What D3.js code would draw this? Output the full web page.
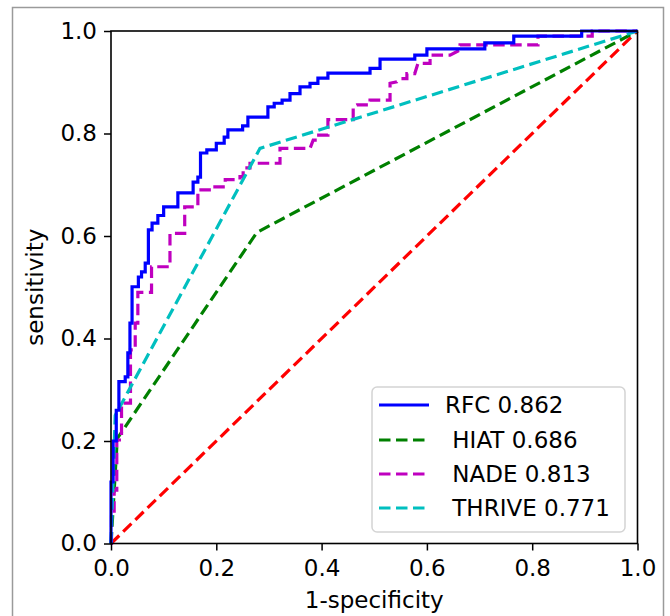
<!DOCTYPE html>
<html><head><meta charset="utf-8">
<script src="https://cdn.jsdelivr.net/npm/d3@7/dist/d3.min.js"></script>
<style>
body{margin:0;background:#fff;}
svg{display:block;font-family:"DejaVu Sans",sans-serif;}
</style>
</head><body>
<svg id="c" width="670" height="616"></svg>
<script>
// ---- data ----
const xTicks = [0.0, 0.2, 0.4, 0.6, 0.8, 1.0];
const yTicks = [0.0, 0.2, 0.4, 0.6, 0.8, 1.0];
const xLabel = "1-specificity";
const yLabel = "sensitivity";
const legendLabels = ["RFC 0.862", " HIAT 0.686", " NADE 0.813", " THRIVE 0.771"];

const rfcFpr = [0,0,0.004,0.004,0.01,0.01,0.015,0.015,0.027,0.027,0.032,0.032,0.036,0.036,0.04,0.04,0.052,0.052,0.058,0.058,0.065,0.065,0.071,0.071,0.078,0.078,0.089,0.089,0.1,0.1,0.127,0.127,0.156,0.156,0.165,0.165,0.17,0.17,0.182,0.182,0.2,0.2,0.215,0.215,0.222,0.222,0.25,0.25,0.26,0.26,0.298,0.298,0.31,0.31,0.325,0.325,0.34,0.34,0.359,0.359,0.378,0.378,0.393,0.393,0.412,0.412,0.492,0.492,0.511,0.511,0.577,0.577,0.6,0.6,0.71,0.71,0.765,0.765,0.894,0.894,1];
const rfcTpr = [0,0.12,0.12,0.2,0.2,0.26,0.26,0.316,0.316,0.325,0.325,0.372,0.372,0.43,0.43,0.501,0.501,0.52,0.52,0.53,0.53,0.547,0.547,0.612,0.612,0.625,0.625,0.64,0.64,0.657,0.657,0.684,0.684,0.705,0.705,0.715,0.715,0.762,0.762,0.768,0.768,0.781,0.781,0.793,0.793,0.807,0.807,0.815,0.815,0.832,0.832,0.852,0.852,0.859,0.859,0.865,0.865,0.878,0.878,0.891,0.891,0.898,0.898,0.908,0.908,0.918,0.918,0.927,0.927,0.945,0.945,0.953,0.953,0.965,0.965,0.977,0.977,0.99,0.99,1,1];

const hiatFpr = [0, 0.012, 0.277, 1];
const hiatTpr = [0, 0.205, 0.607, 1];

const nadeFpr = [0,0.001,0.001,0.006,0.006,0.011,0.011,0.02,0.02,0.037,0.037,0.046,0.046,0.051,0.051,0.077,0.077,0.112,0.112,0.14,0.14,0.165,0.165,0.192,0.192,0.217,0.217,0.245,0.245,0.251,0.251,0.264,0.264,0.321,0.321,0.378,0.384,0.391,0.391,0.412,0.412,0.46,0.46,0.467,0.492,0.492,0.53,0.53,0.543,0.549,0.562,0.562,0.577,0.583,0.606,0.606,0.644,0.663,0.663,0.811,0.811,0.914,0.914,1];
const nadeTpr = [0,0,0.052,0.052,0.104,0.104,0.202,0.202,0.274,0.274,0.378,0.378,0.43,0.43,0.49,0.49,0.54,0.54,0.605,0.605,0.657,0.657,0.69,0.69,0.696,0.696,0.71,0.71,0.716,0.716,0.733,0.733,0.742,0.742,0.771,0.771,0.787,0.787,0.797,0.797,0.827,0.827,0.852,0.856,0.856,0.865,0.865,0.898,0.901,0.907,0.907,0.917,0.917,0.937,0.937,0.953,0.953,0.963,0.973,0.973,0.99,0.99,1,1];

const thriveFpr = [0, 0.008, 0.283, 1];
const thriveTpr = [0, 0.25, 0.771, 1];

const chanceFpr = [0, 1];
const chanceTpr = [0, 1];

// ---- layout ----
const svg = d3.select("#c");
const L = 111, R = 637.5, T = 31, B = 543.5;
const x = d3.scaleLinear().domain([0, 1]).range([L, R]);
const y = d3.scaleLinear().domain([0, 1]).range([B, T]);
const FS = 23;

// outer frame
svg.append("path")
  .attr("d", `M12.5,620 L12.5,7.5 L663.5,7.5 L663.5,620`)
  .attr("fill", "none").attr("stroke", "#9a9a9a").attr("stroke-width", 1.5);

const zip = (a, b) => a.map((v, i) => [v, b[i]]);
const line = d3.line().x(d => x(d[0])).y(d => y(d[1]));

const clip = svg.append("clipPath").attr("id", "pc").append("rect")
  .attr("x", L - 2).attr("y", T - 2).attr("width", R - L + 4).attr("height", B - T + 4);

const series = [
  {pts: zip(chanceFpr, chanceTpr), color: "#ff0000", dash: "11.5,5.5"},
  {pts: zip(hiatFpr, hiatTpr), color: "#008000", dash: "11.5,5.5"},
  {pts: zip(nadeFpr, nadeTpr), color: "#bf00bf", dash: "11.5,5.5"},
  {pts: zip(thriveFpr, thriveTpr), color: "#00bfbf", dash: "11.5,5.5"},
  {pts: zip(rfcFpr, rfcTpr), color: "#0000ff", dash: null}
];

const g = svg.append("g").attr("clip-path", "url(#pc)");
series.forEach(s => {
  g.append("path").attr("d", line(s.pts))
    .attr("fill", "none").attr("stroke", s.color).attr("stroke-width", 3.2)
    .attr("stroke-dasharray", s.dash).attr("stroke-linejoin", "miter");
});

// axes
const fmt = d3.format(".1f");
const xAxis = svg.append("g").attr("transform", `translate(0,${B})`)
  .call(d3.axisBottom(x).tickValues(xTicks).tickFormat(fmt).tickSize(7).tickPadding(7).tickSizeOuter(0));
const yAxis = svg.append("g").attr("transform", `translate(${L},0)`)
  .call(d3.axisLeft(y).tickValues(yTicks).tickFormat(fmt).tickSize(7).tickPadding(7).tickSizeOuter(0));
[xAxis, yAxis].forEach(a => {
  a.select(".domain").remove();
  a.selectAll("line").attr("stroke", "#000").attr("stroke-width", 1.5);
  a.selectAll("text").attr("font-size", FS).attr("fill", "#000").attr("font-family", "DejaVu Sans");
});
xAxis.selectAll("text").attr("dy", "0.82em");

// spines
svg.append("rect").attr("x", L).attr("y", T).attr("width", R - L).attr("height", B - T)
  .attr("fill", "none").attr("stroke", "#000").attr("stroke-width", 1.6);

// axis labels
svg.append("text").attr("x", (L + R) / 2).attr("y", 608).attr("text-anchor", "middle")
  .attr("font-size", FS).text(xLabel);
svg.append("text").attr("transform", `translate(43,${(T + B) / 2}) rotate(-90)`)
  .attr("text-anchor", "middle").attr("font-size", FS).text(yLabel);

// legend
const lg = svg.append("g");
lg.append("rect").attr("x", 372).attr("y", 387).attr("width", 253).attr("height", 145)
  .attr("rx", 5).attr("fill", "#fff").attr("fill-opacity", 0.8)
  .attr("stroke", "#d4d4d4").attr("stroke-width", 1.5);
const legOrder = [4, 1, 2, 3];
const rowY = [405, 440, 474, 508];
legOrder.forEach((si, i) => {
  const s = series[si];
  lg.append("line").attr("x1", 379).attr("x2", 429).attr("y1", rowY[i]).attr("y2", rowY[i])
    .attr("stroke", s.color).attr("stroke-width", 3.2).attr("stroke-dasharray", s.dash);
  lg.append("text").attr("x", 445).attr("y", rowY[i] + 0.365 * FS)
    .attr("font-size", FS).style("white-space", "pre").attr("xml:space", "preserve")
    .text(legendLabels[i]);
});
</script>
</body></html>
